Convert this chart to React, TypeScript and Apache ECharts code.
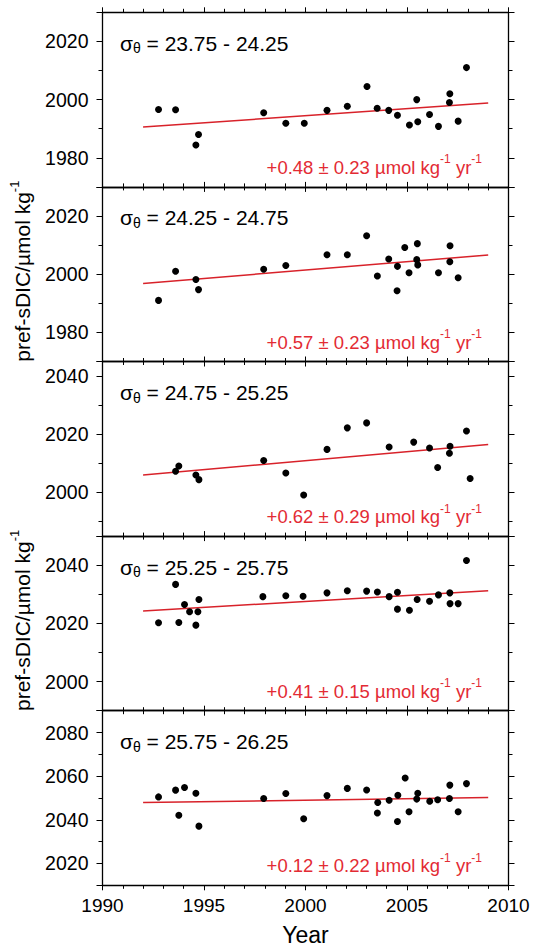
import React, { useEffect, useRef } from 'react';
import * as echarts from 'echarts';

const FONT = '"Liberation Sans", Arial, Helvetica, sans-serif';

// ---- data ----
const sigmaRanges = ['23.75 - 24.25', '24.25 - 24.75', '24.75 - 25.25', '25.25 - 25.75', '25.75 - 26.25'];
const trendLabels = ['+0.48 \u00b1 0.23', '+0.57 \u00b1 0.23', '+0.62 \u00b1 0.29', '+0.41 \u00b1 0.15', '+0.12 \u00b1 0.22'];
const yMins = [1970, 1970, 1985, 1990, 2010];
const yMaxs = [2030, 2030, 2045, 2050, 2090];
const xMin = 1990;
const xMax = 2010;

const p1Years = [1992.76, 1993.6, 1994.6, 1994.73, 1997.94, 1999.03, 1999.94, 2001.06, 2002.06, 2003.03, 2003.53, 2004.1, 2004.53, 2005.12, 2005.48, 2005.53, 2006.11, 2006.55, 2007.11, 2007.09, 2007.52, 2007.93];
const p1Values = [1996.6, 1996.5, 1984.4, 1988.0, 1995.5, 1991.9, 1991.9, 1996.3, 1997.7, 2004.5, 1997.0, 1996.3, 1994.6, 1991.3, 2000.0, 1992.4, 1994.9, 1990.8, 2002.0, 1999.0, 1992.6, 2011.0];

const p2Years = [1992.76, 1993.6, 1994.6, 1994.73, 1997.94, 1999.03, 2001.06, 2002.06, 2003.01, 2003.54, 2004.1, 2004.53, 2004.51, 2004.89, 2005.1, 2005.51, 2005.48, 2005.53, 2006.55, 2007.12, 2007.11, 2007.52];
const p2Values = [1991.0, 2001.0, 1998.2, 1994.7, 2001.7, 2003.0, 2006.7, 2006.7, 2013.2, 1999.4, 2005.2, 2002.7, 1994.3, 2009.2, 2000.5, 2010.5, 2005.0, 2003.2, 2000.5, 2009.8, 2004.3, 1998.8];

const p3Years = [1993.6, 1993.76, 1994.6, 1994.75, 1997.94, 1999.03, 1999.91, 2001.06, 2002.06, 2003.01, 2004.12, 2005.33, 2006.11, 2006.51, 2007.12, 2007.09, 2007.93, 2008.11];
const p3Values = [2007.3, 2009.1, 2006.0, 2004.4, 2011.0, 2006.7, 1999.1, 2014.8, 2022.2, 2023.9, 2015.6, 2017.3, 2015.3, 2008.6, 2015.9, 2013.5, 2021.1, 2004.8];

const p4Years = [1992.76, 1993.6, 1993.76, 1994.04, 1994.29, 1994.6, 1994.7, 1994.75, 1997.9, 1999.03, 1999.88, 2001.06, 2002.06, 2003.01, 2003.54, 2004.12, 2004.53, 2004.53, 2005.12, 2005.5, 2006.11, 2006.55, 2007.11, 2007.12, 2007.52, 2007.93];
const p4Values = [2020.2, 2033.4, 2020.3, 2026.5, 2024.0, 2019.4, 2024.0, 2028.2, 2029.2, 2029.5, 2029.3, 2030.5, 2031.2, 2031.1, 2030.8, 2029.2, 2030.7, 2024.9, 2024.5, 2028.2, 2027.6, 2029.8, 2030.5, 2026.8, 2026.8, 2041.6];

const p5Years = [1992.76, 1993.6, 1993.76, 1994.04, 1994.6, 1994.75, 1997.94, 1999.03, 1999.91, 2001.06, 2002.06, 2003.01, 2003.56, 2003.54, 2004.12, 2004.53, 2004.55, 2004.91, 2005.1, 2005.48, 2005.53, 2006.12, 2006.51, 2007.11, 2007.09, 2007.52, 2007.93];
const p5Values = [2050.5, 2053.6, 2042.1, 2054.8, 2052.2, 2037.1, 2049.8, 2052.1, 2040.5, 2051.1, 2054.4, 2053.7, 2047.9, 2043.1, 2049.0, 2039.2, 2051.3, 2059.2, 2043.7, 2049.5, 2052.2, 2048.5, 2049.2, 2055.9, 2049.8, 2043.7, 2056.6];

const trendYears = [1992, 2009];
const trendStart = [1990.6, 1996.8, 2006.0, 2024.3, 2047.9];
const trendEnd = [1998.8, 2006.6, 2016.5, 2031.25, 2050.2];

const yTitle = 'pref-sDIC/\u00b5mol kg';
const xTitle = 'Year';

// ---- layout ----
const GL = 102.5;
const GW = 406;
const GT = 12.3;
const PH = 174.6;
const RED_TEXT = '#e32b34';
const RED_LINE = '#d8222a';

function buildOption() {
  const panels = [
    { years: p1Years, values: p1Values },
    { years: p2Years, values: p2Values },
    { years: p3Years, values: p3Values },
    { years: p4Years, values: p4Values },
    { years: p5Years, values: p5Values },
  ];
  const grid: any[] = [];
  const xAxis: any[] = [];
  const yAxis: any[] = [];
  const series: any[] = [];
  const graphic: any[] = [];
  const axisLine = { show: true, onZero: false, lineStyle: { color: '#000', width: 1.3 } };

  panels.forEach((p, i) => {
    const top = GT + i * PH;
    grid.push({ left: GL, width: GW, top, height: PH, containLabel: false, outerBoundsMode: 'none' });
    const xc = {
      type: 'value', gridIndex: i, min: xMin, max: xMax, interval: 5,
      splitLine: { show: false }, minorSplitLine: { show: false }, axisLine,
      axisTick: { show: true, inside: false, length: 5, lineStyle: { color: '#000', width: 1 } },
      minorTick: { show: true, splitNumber: 5, length: 3.5, lineStyle: { color: '#000', width: 1 } },
    };
    xAxis.push({
      ...xc, position: 'bottom',
      axisLabel: { show: i === 4, color: '#000', fontSize: 19, fontFamily: FONT, margin: 11,
        formatter: (v: number) => String(Math.round(v)) },
    });
    xAxis.push({ ...xc, position: 'top', axisLabel: { show: false } });
    const yc = {
      type: 'value', gridIndex: i, min: yMins[i], max: yMaxs[i], minInterval: 20, maxInterval: 20, splitNumber: 3,
      splitLine: { show: false }, minorSplitLine: { show: false }, axisLine,
      axisTick: { show: true, inside: false, length: 6, lineStyle: { color: '#000', width: 1 } },
      minorTick: { show: true, splitNumber: 2, length: 4, lineStyle: { color: '#000', width: 1 } },
    };
    yAxis.push({
      ...yc, position: 'left',
      axisLabel: { show: true, color: '#000', fontSize: 19.5, fontFamily: FONT, margin: 14,
        formatter: (v: number) => (Math.round(v) % 20 === 0 ? String(Math.round(v)) : '') },
    });
    yAxis.push({ ...yc, position: 'right', axisLabel: { show: false } });

    series.push({
      type: 'scatter', xAxisIndex: 2 * i, yAxisIndex: 2 * i, symbol: 'circle', symbolSize: 7,
      itemStyle: { color: '#000', opacity: 1 }, z: 4, silent: true,
      data: p.years.map((y, k) => [y, p.values[k]]),
    });
    series.push({
      type: 'line', xAxisIndex: 2 * i, yAxisIndex: 2 * i, symbol: 'none', z: 3, silent: true,
      lineStyle: { color: RED_LINE, width: 1.5 },
      data: trendYears.map((y, k) => [y, k === 0 ? trendStart[i] : trendEnd[i]]),
    });

    graphic.push({
      type: 'text', x: 120, y: top + 31, silent: true,
      style: {
        text: '{s|\u03c3}{t|\u03b8}{s| = ' + sigmaRanges[i] + '}',
        align: 'left', verticalAlign: 'middle', fill: '#000',
        rich: {
          s: { fontSize: 21, fontFamily: FONT, fill: '#000', color: '#000', lineHeight: 24 },
          t: { fontSize: 14, fontFamily: FONT, fill: '#000', color: '#000', lineHeight: 13, verticalAlign: 'bottom' },
        },
      },
    });
    graphic.push({
      type: 'text', x: 482, y: top + PH - 19.5, silent: true,
      style: {
        text: '{m|' + trendLabels[i] + ' \u00b5mol kg}{u|-1}{m| yr}{u|-1}',
        align: 'right', verticalAlign: 'middle', fill: RED_TEXT,
        rich: {
          m: { fontSize: 18.5, fontFamily: FONT, fill: RED_TEXT, color: RED_TEXT, lineHeight: 28 },
          u: { fontSize: 12, fontFamily: FONT, fill: RED_TEXT, color: RED_TEXT, lineHeight: 9, verticalAlign: 'top' },
        },
      },
    });
  });

  [1, 3].forEach((i) => {
    graphic.push({
      type: 'text', x: 22, y: GT + i * PH + PH / 2 - 3, rotation: Math.PI / 2, silent: true,
      style: {
        text: '{a|' + yTitle + '}{b|-1}',
        align: 'center', verticalAlign: 'middle', fill: '#000',
        rich: {
          a: { fontSize: 21, fontFamily: FONT, fill: '#000', color: '#000', lineHeight: 28 },
          b: { fontSize: 13, fontFamily: FONT, fill: '#000', color: '#000', lineHeight: 12, verticalAlign: 'top' },
        },
      },
    });
  });

  graphic.push({
    type: 'text', x: GL + GW / 2, y: 935, silent: true,
    style: { text: xTitle, align: 'center', verticalAlign: 'middle', fill: '#000', fontSize: 23, fontFamily: FONT },
  });

  return {
    animation: false,
    backgroundColor: '#fff',
    grid, xAxis, yAxis, series, graphic,
  };
}

export default function App() {
  const ref = useRef<HTMLDivElement>(null);
  useEffect(() => {
    if (!ref.current) return;
    const chart = echarts.init(ref.current, null, { renderer: 'svg' });
    chart.setOption(buildOption() as any);
    return () => chart.dispose();
  }, []);
  return (
    <div
      ref={ref}
      style={{ position: 'fixed', left: 0, top: 0, width: 539, height: 951, background: '#fff' }}
    />
  );
}
